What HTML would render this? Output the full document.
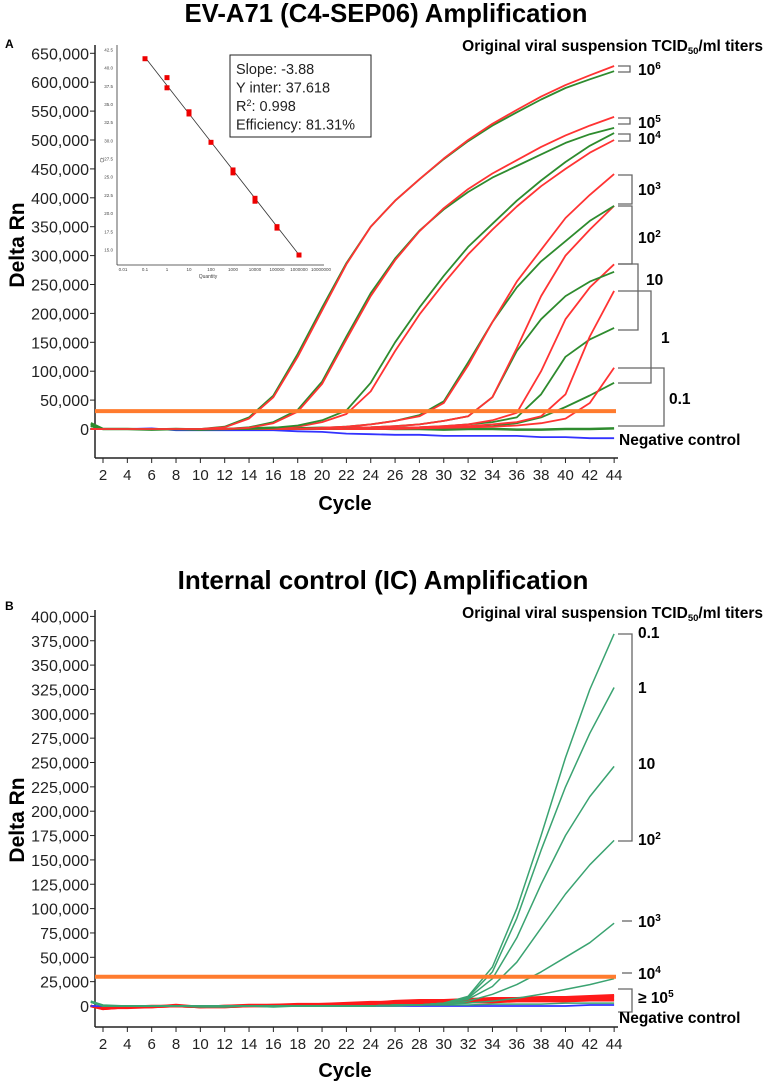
<!DOCTYPE html>
<html><head><meta charset="utf-8"><style>
html,body{margin:0;padding:0;background:#fff}
svg{display:block;font-family:"Liberation Sans",Arial,sans-serif}
</style></head><body>
<svg id="fig" width="767" height="1085" viewBox="0 0 767 1085">
<g id="static">
<text x="386" y="22" text-anchor="middle" font-size="25.7" font-weight="bold">EV-A71 (C4-SEP06) Amplification</text>
<text x="5" y="48" font-size="12" font-weight="bold">A</text>
<text transform="translate(24,245) rotate(-90)" text-anchor="middle" font-size="21" font-weight="bold">Delta Rn</text>
<text x="345" y="510" text-anchor="middle" font-size="20" font-weight="bold">Cycle</text>
<text x="763" y="51" text-anchor="end" font-size="15.5" font-weight="bold">Original viral suspension TCID<tspan font-size="9.5" dy="3">50</tspan><tspan dy="-3">/ml titers</tspan></text>

<text x="383" y="589" text-anchor="middle" font-size="26" font-weight="bold">Internal control (IC) Amplification</text>
<text x="5" y="610" font-size="12" font-weight="bold">B</text>
<text transform="translate(24,820) rotate(-90)" text-anchor="middle" font-size="21" font-weight="bold">Delta Rn</text>
<text x="345" y="1077" text-anchor="middle" font-size="20" font-weight="bold">Cycle</text>
<text x="763" y="618" text-anchor="end" font-size="15.5" font-weight="bold">Original viral suspension TCID<tspan font-size="9.5" dy="3">50</tspan><tspan dy="-3">/ml titers</tspan></text>
</g>
<g id="a-plot"></g>
<g id="b-plot"></g>
<g id="inset"></g>
<g id="labels" font-weight="bold" font-size="15.5"></g>
</svg>
<script>
// shared cycle axis
const cycles = [1,2,4,6,8,10,12,14,16,18,20,22,24,26,28,30,32,34,36,38,40,42,44];
const xTicks = [2,4,6,8,10,12,14,16,18,20,22,24,26,28,30,32,34,36,38,40,42,44];
// Panel A series (thousands Delta Rn)
const aR6 = [0,0,0,0,0,0,3,18,55,125,205,285,350,395,432,468,500,528,552,575,595,612,628];
const aG6 = [5,0,0,0,0,0,4,20,58,130,210,287,350,395,432,467,498,525,548,570,590,605,619];
const aR5 = [0,0,0,0,0,0,0,2,10,30,78,155,230,292,342,382,415,442,465,488,508,525,540];
const aG5 = [8,0,0,0,0,0,0,3,12,33,82,160,235,295,343,380,410,435,455,475,495,510,521];
const aG4 = [6,0,0,0,0,0,0,0,2,6,15,32,80,150,210,265,315,355,395,430,462,490,512];
const aR4 = [0,0,0,0,0,0,0,0,1,4,12,26,65,135,198,252,302,345,385,420,450,478,500];
const aR3 = [0,0,0,0,0,0,0,0,0,0,2,4,8,14,22,45,110,185,255,310,365,405,441];
const aG3 = [5,0,0,0,0,0,0,0,0,0,2,4,8,14,24,48,115,185,245,290,325,360,386];
const aR2 = [0,0,0,0,0,0,0,0,0,0,0,2,3,5,8,14,22,55,140,230,300,345,386];
const aG2 = [5,0,0,0,0,0,0,0,0,0,0,2,3,5,8,14,22,55,135,190,230,255,272];
const aR1 = [0,0,0,0,0,0,0,0,0,0,0,0,1,2,3,5,8,15,28,100,190,245,285];
const aG1 = [5,0,0,0,0,0,0,0,0,0,0,0,1,2,3,5,8,12,20,60,125,155,175];
const aR0 = [0,0,0,0,0,0,0,0,0,0,0,0,0,1,2,3,5,8,12,22,60,160,239];
const aRm = [0,0,0,0,0,0,0,0,0,0,0,0,0,0,1,2,3,4,6,10,18,45,106];
const aGm = [5,0,0,0,0,0,0,0,0,0,0,0,0,0,1,2,3,5,10,20,38,58,80];
const aGflat = [10,0,0,-1,0,-1,0,1,2,1,2,1,1,0,0,-1,0,0,-1,-1,0,0,1];
const aNeg = [0,0,0,1,-2,-2,-2,-2,-2,-4,-5,-8,-9,-10,-10,-12,-12,-12,-12,-14,-14,-16,-16];
const aTicks = [650,600,550,500,450,400,350,300,250,200,150,100,50,0];
const aThreshold = 31;
// Panel B series (thousands)
const b01 = [4,0,0,0,0,0,0,0,0,0,0,0,0,1,1,3,10,40,100,175,255,325,382];
const b1 = [4,0,0,0,0,0,0,0,0,0,0,0,0,1,1,3,9,35,90,160,225,280,327];
const b10 = [4,0,0,0,0,0,0,0,0,0,0,0,0,1,1,3,8,28,70,125,175,215,246];
const b100 = [4,0,0,0,0,0,0,0,0,0,0,0,0,1,1,3,7,20,45,80,115,145,170];
const b1000 = [4,0,0,0,0,0,0,0,0,0,0,0,0,1,1,2,5,12,22,35,50,65,85];
const b1e4 = [4,0,0,0,0,0,0,0,0,0,0,0,0,1,1,2,3,5,8,12,17,22,28];
const bRed1 = [0,-3,-1,-1,0,-1,-1,0,0,1,2,2,3,5,6,6,7,8,8,9,9,10,11];
const bRed2 = [0,-2,-1,0,0,-1,0,1,1,2,2,3,4,4,5,5,6,7,7,8,8,9,10];
const bRed3 = [0,-3,-1,-1,1,-1,0,0,1,1,1,2,3,3,4,5,5,6,6,6,7,7,8];
const bRed4 = [0,-2,-2,-1,0,-1,-1,0,0,1,1,1,2,2,3,3,4,4,5,5,5,6,6];
const bGflat = [5,1,0,0,0,-1,-1,0,-1,0,0,0,0,0,1,1,1,2,2,2,3,3,3];
const bNeg = [0,0,0,0,0,0,0,0,0,0,0,0,0,0,0,0,0,0,0,0,0,1,1];
const bTicks = [400,375,350,325,300,275,250,225,200,175,150,125,100,75,50,25,0];
const bThreshold = 30;
// Inset standard curve
const stdQty = [0.1,1,1,10,10,100,1000,1000,10000,10000,100000,100000,1000000];
const stdCt = [41.3,38.7,37.3,34.0,33.7,29.8,26.0,25.6,22.1,21.7,18.2,18.0,14.3];
const insetYTicks = [42.5,40.0,37.5,35.0,32.5,30.0,27.5,25.0,22.5,20.0,17.5,15.0];
const insetXTicks = ['0.01','0.1','1','10','100','1000','10000','100000','1000000','10000000'];
const slope = -3.88, yInter = 37.618;

const NS='http://www.w3.org/2000/svg';
function mk(tag, attrs, parent){const e=document.createElementNS(NS,tag);for(const k in attrs)e.setAttribute(k,attrs[k]);parent.appendChild(e);return e;}
const xC = c => 103 + (c-2)*12.17;
const yA = v => 429 - v*28.9/50;
const yB = v => 1006 - v*24.35/25;

function axes(g, yf, ticks, top, bottom, name){
  let l=mk('line',{x1:95,y1:top,x2:95,y2:bottom,stroke:'#222','stroke-width':1.5},g);
  
  
  l=mk('line',{x1:95,y1:bottom,x2:618,y2:bottom,stroke:'#222','stroke-width':1.5},g);
  
  
  ticks.forEach(t=>{
    const y=yf(t);
    mk('line',{x1:90,y1:y,x2:95,y2:y,stroke:'#222'},g);
    const tx=mk('text',{x:89,y:y+6,'text-anchor':'end','font-size':16,fill:'#222'},g);
    tx.textContent = t===0?'0':(t+',000');
    
    
  });
  xTicks.forEach(c=>{
    const x=xC(c);
    mk('line',{x1:x,y1:bottom,x2:x,y2:bottom+5,stroke:'#222'},g);
    const tx=mk('text',{x:x,y:bottom+22,'text-anchor':'middle','font-size':15,fill:'#222'},g);
    tx.textContent=c;
    
    
  });
}
function series(g, vals, yf, color, name, w){
  const pts = vals.map((v,i)=>xC(cycles[i]).toFixed(1)+','+yf(v).toFixed(1)).join(' ');
  const p=mk('polyline',{points:pts,fill:'none',stroke:color,'stroke-width':w||1.8,'stroke-linejoin':'round'},g);
  
  
}
function thresh(g, yf, v, name){
  const l=mk('line',{x1:95,y1:yf(v),x2:616,y2:yf(v),stroke:'#ff7b2e','stroke-width':4},g);
  
  
}
const RED='#ff3333', GRN='#2e8b2e', BLU='#3333ff', TEAL='#3aa371', BRED='#ff1a1a';
// Panel A
const ga=document.getElementById('a-plot');
axes(ga,yA,aTicks,45,458,'panel-a');
series(ga,aNeg,yA,BLU,'negative-control-line');
series(ga,aGflat,yA,GRN,'flat-green-line',2.5);
[[aGm,GRN,'g-0.1'],[aRm,RED,'r-0.1'],[aG1,GRN,'g-1'],[aR0,RED,'r-1'],[aR1,RED,'r-10'],[aG2,GRN,'g-10'],[aR2,RED,'r-100'],[aG3,GRN,'g-100'],[aR3,RED,'r-1000'],[aR4,RED,'r-1e4'],[aG4,GRN,'g-1e4'],[aG5,GRN,'g-1e5'],[aR5,RED,'r-1e5'],[aG6,GRN,'g-1e6'],[aR6,RED,'r-1e6']]
  .forEach(s=>series(ga,s[0],yA,s[1],'amplification-curve-'+s[2]));
thresh(ga,yA,aThreshold,'threshold-line-a');
// Panel B
const gb=document.getElementById('b-plot');
axes(gb,yB,bTicks,610,1027,'panel-b');
[bRed1,bRed2,bRed3,bRed4].forEach((s,i)=>series(gb,s,yB,BRED,'ic-red-curve-'+(i+1),2.5));
series(gb,bNeg,yB,BLU,'negative-control-line-b');
series(gb,bGflat,yB,TEAL,'ic-flat-curve',1.5);
[[b1e4,'1e4'],[b1000,'1000'],[b100,'100'],[b10,'10'],[b1,'1'],[b01,'0.1']].forEach(s=>series(gb,s[0],yB,TEAL,'ic-curve-'+s[1],1.5));
thresh(gb,yB,bThreshold,'threshold-line-b');
// Inset
const gi=document.getElementById('inset');
const ix = q => 145 + Math.log10(q/0.1)*22;
const iy = v => 50 + (42.5-v)*7.27;
let e=mk('line',{x1:117,y1:45,x2:117,y2:265,stroke:'#333','stroke-width':0.8},gi);
 
e=mk('line',{x1:117,y1:265,x2:324,y2:265,stroke:'#333','stroke-width':0.8},gi);
 
insetYTicks.forEach(t=>{const tx=mk('text',{x:113,y:iy(t)+1.5,'text-anchor':'end','font-size':4.5,fill:'#444'},gi);tx.textContent=t.toFixed(1);
   });
insetXTicks.forEach(t=>{const tx=mk('text',{x:ix(parseFloat(t)),y:271,'text-anchor':'middle','font-size':4.5,fill:'#444'},gi);tx.textContent=t;
   });
e=mk('text',{x:208,y:278,'text-anchor':'middle','font-size':5,fill:'#444'},gi); e.textContent='Quantity';
 
e=mk('text',{transform:'translate(104,160) rotate(-90)','text-anchor':'middle','font-size':5,fill:'#444'},gi); e.textContent='Ct';
 
e=mk('line',{x1:ix(0.1),y1:iy(yInter+slope*Math.log10(0.1)),x2:ix(1e6),y2:iy(yInter+slope*6),stroke:'#333','stroke-width':0.8},gi);
 
stdQty.forEach((q,i)=>{const r=mk('rect',{x:ix(q)-2.5,y:iy(stdCt[i])-2.5,width:5,height:5,fill:'#ee0000'},gi);
   });
e=mk('rect',{x:230,y:55,width:141,height:82,fill:'#fff',stroke:'#222','stroke-width':1},gi);
 
const stats=['Slope: -3.88','Y inter: 37.618','R2: 0.998','Efficiency: 81.31%'];
stats.forEach((s,i)=>{const t=mk('text',{x:236,y:74+i*18.5,'font-size':14.5,fill:'#222'},gi);
  if(i===2){t.innerHTML='R<tspan font-size="9" dy="-5">2</tspan><tspan dy="5">: 0.998</tspan>';} else t.textContent=s;
   });
// Labels and brackets
const gl=document.getElementById('labels');
function br(x1,x2,y1,y2,name){const p=mk('path',{d:`M${x1},${y1} H${x2} V${y2} H${x1}`,fill:'none',stroke:'#666','stroke-width':1.3},gl);
   }
function lab(x,y,html,name){const t=mk('text',{x:x,y:y},gl);t.innerHTML=html;}
const sup = n => '10<tspan font-size="10" dy="-6">'+n+'</tspan>';
br(618,630,66,72,'bracket-1e6'); lab(638,75,sup(6),'label-1e6');
br(618,630,118,124,'bracket-1e5'); lab(638,128,sup(5),'label-1e5');
br(618,630,134,141,'bracket-1e4'); lab(638,144,sup(4),'label-1e4');
br(618,632,175,204,'bracket-1e3'); lab(638,195,sup(3),'label-1e3');
br(618,632,206,264,'bracket-1e2'); lab(638,243,sup(2),'label-1e2');
br(618,638,264,330,'bracket-10'); lab(646,285,'10','label-10');
br(618,651,291,383,'bracket-1'); lab(661,343,'1','label-1');
br(618,664,368,426,'bracket-0.1'); lab(669,404,'0.1','label-0.1');
lab(619,445,'Negative control','label-negative-control');
br(618,632,634,841,'bracket-ic-range'); 
lab(638,638,'0.1','ic-label-0.1'); lab(638,693,'1','ic-label-1'); lab(638,769,'10','ic-label-10'); lab(638,845,sup(2),'ic-label-1e2');
e=mk('line',{x1:622,y1:921,x2:632,y2:921,stroke:'#666','stroke-width':1.3},gl);  
lab(638,927,sup(3),'ic-label-1e3');
e=mk('line',{x1:622,y1:973,x2:632,y2:973,stroke:'#666','stroke-width':1.3},gl);  
lab(638,979,sup(4),'ic-label-1e4');
br(618,632,989,1012,'bracket-ge-1e5'); lab(638,1003,'≥ '+sup(5),'ic-label-ge-1e5');
lab(619,1023,'Negative control','ic-label-negative-control');
</script>
</body></html>
